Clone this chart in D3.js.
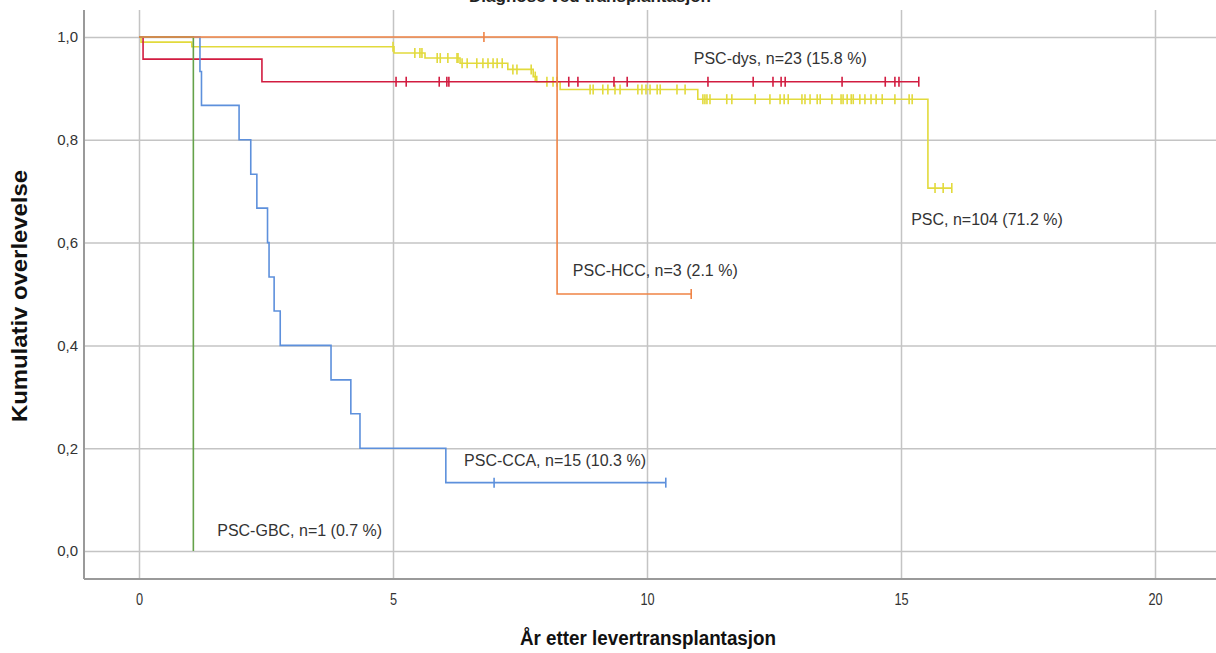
<!DOCTYPE html>
<html>
<head>
<meta charset="utf-8">
<script src="https://cdn.jsdelivr.net/npm/d3@7"></script>
<style>
  body { margin: 0; background: #fff; }
  svg { display: block; font-family: "Liberation Sans", Arial, sans-serif; }
</style>
</head>
<body>
<svg id="chart" width="1216" height="653"></svg>
<script>
// Kaplan-Meier curves (years, cumulative survival)
const groupNames = ["PSC", "PSC-dys", "PSC-CCA", "PSC-GBC", "PSC-HCC"];
const groupLabels = ["PSC, n=104 (71.2 %)", "PSC-dys, n=23 (15.8 %)", "PSC-CCA, n=15 (10.3 %)",
                     "PSC-GBC, n=1 (0.7 %)", "PSC-HCC, n=3 (2.1 %)"];

// PSC (yellow)
const pscEventTimes = [0.04, 1.04, 5.02, 5.63, 6.32, 7.26, 7.76, 7.83, 8.29, 11.00, 15.53];
const pscSurvival   = [0.990, 0.981, 0.969, 0.959, 0.949, 0.937, 0.923, 0.913, 0.898, 0.879, 0.706];
const pscCensored   = [5.00, 5.43, 5.53, 5.57, 5.87, 5.93, 6.08, 6.26, 6.28, 6.36, 6.46, 6.65, 6.77,
                       6.87, 6.97, 7.05, 7.15, 7.36, 7.44, 7.72, 7.80, 8.03, 8.15, 8.23, 8.88, 8.94,
                       9.13, 9.23, 9.37, 9.47, 9.82, 9.90, 9.98, 10.06, 10.20, 10.26, 10.59, 10.75,
                       11.10, 11.14, 11.18, 11.24, 11.57, 11.67, 12.13, 12.42, 12.62, 12.70, 12.78,
                       13.05, 13.11, 13.21, 13.35, 13.41, 13.64, 13.82, 13.86, 13.94, 14.02, 14.06,
                       14.19, 14.29, 14.41, 14.51, 14.63, 14.88, 15.16, 15.22, 15.67, 15.83, 16.00];

// PSC-dys (red)
const dysEventTimes = [0.08, 2.42];
const dysSurvival   = [0.957, 0.913];
const dysCensored   = [5.06, 5.26, 5.91, 6.06, 6.10, 8.46, 8.64, 9.35, 9.61, 11.20, 12.09, 12.48,
                       12.64, 12.72, 13.84, 14.69, 14.88, 14.96, 15.35];

// PSC-CCA (blue)
const ccaEventTimes = [1.20, 1.23, 1.97, 2.20, 2.32, 2.53, 2.56, 2.66, 2.78, 3.78, 4.17, 4.35, 6.04];
const ccaSurvival   = [0.933, 0.867, 0.800, 0.733, 0.667, 0.600, 0.533, 0.467, 0.400, 0.333, 0.267, 0.200, 0.133];
const ccaCensored   = [6.99, 10.37];

// PSC-GBC (green)
const gbcEventTimes = [1.07];
const gbcSurvival   = [0.0];
const gbcCensored   = [];

// PSC-HCC (orange)
const hccEventTimes = [8.23];
const hccSurvival   = [0.5];
const hccCensored   = [6.79, 10.87];

const xTicks = [0, 5, 10, 15, 20];
const yTicks = [0, 0.2, 0.4, 0.6, 0.8, 1.0];

const series = [
  { name: "PSC",     events: pscEventTimes, surv: pscSurvival, cens: pscCensored, color: "#e2da3c" },
  { name: "PSC-dys", events: dysEventTimes, surv: dysSurvival, cens: dysCensored, color: "#d21c40" },
  { name: "PSC-CCA", events: ccaEventTimes, surv: ccaSurvival, cens: ccaCensored, color: "#5d90dc" },
  { name: "PSC-GBC", events: gbcEventTimes, surv: gbcSurvival, cens: gbcCensored, color: "#65a24a" },
  { name: "PSC-HCC", events: hccEventTimes, surv: hccSurvival, cens: hccCensored, color: "#ef8446" }
];

// label anchors in data units (years, survival)
const labelAt = {
  "PSC":     [15.2, 0.635],
  "PSC-dys": [10.92, 0.947],
  "PSC-CCA": [6.40, 0.165],
  "PSC-GBC": [1.54, 0.029],
  "PSC-HCC": [8.54, 0.535]
};

const svg = d3.select("#chart");
const W = 1216, H = 653;
const plotLeft = 84, plotBottom = 579, plotTop = 10, plotRight = W;

const x = d3.scaleLinear().domain([0, 20]).range([139, 1155]);
const y = d3.scaleLinear().domain([0, 1]).range([551, 37]);

svg.append("rect").attr("width", W).attr("height", H).attr("fill", "#fff");

// chart title, cut off by the top edge as in the source image
svg.append("text")
  .attr("x", 590).attr("y", 2)
  .attr("text-anchor", "middle")
  .attr("font-size", 17).attr("font-weight", "bold").attr("fill", "#222")
  .text("Diagnose ved transplantasjon");

const nb = d3.formatLocale({ decimal: ",", thousands: ".", grouping: [3], currency: ["", ""] });
const fmtY = nb.format(".1f");

// y axis + horizontal grid
const yAxis = svg.append("g")
  .attr("transform", `translate(${plotLeft},0)`)
  .call(d3.axisLeft(y).tickValues(yTicks).tickFormat(fmtY).tickSize(-(plotRight - plotLeft)).tickPadding(6));
yAxis.select(".domain").remove();
yAxis.selectAll(".tick line").attr("stroke", "#c4c4c4").attr("stroke-width", 1.5);
yAxis.selectAll(".tick text")
  .attr("font-family", "Liberation Sans, Arial, sans-serif")
  .attr("font-size", 15).attr("fill", "#333");

// x axis + vertical grid
const xAxis = svg.append("g")
  .attr("transform", `translate(0,${plotBottom})`)
  .call(d3.axisBottom(x).tickValues(xTicks).tickSize(-(plotBottom - plotTop)).tickPadding(14));
xAxis.select(".domain").remove();
xAxis.selectAll(".tick line").attr("stroke", "#c4c4c4").attr("stroke-width", 1.5);
xAxis.selectAll(".tick text")
  .attr("font-family", "Liberation Sans, Arial, sans-serif")
  .attr("font-size", 17).attr("fill", "#333")
  .attr("transform", "scale(0.75,1)");

// axis lines
svg.append("line").attr("x1", plotLeft).attr("x2", plotLeft).attr("y1", plotTop).attr("y2", plotBottom)
  .attr("stroke", "#9a9a9a").attr("stroke-width", 2);
svg.append("line").attr("x1", plotLeft).attr("x2", plotRight).attr("y1", plotBottom).attr("y2", plotBottom)
  .attr("stroke", "#9a9a9a").attr("stroke-width", 2);

// axis titles
svg.append("text")
  .attr("transform", `translate(27,296) rotate(-90)`)
  .attr("text-anchor", "middle")
  .attr("font-size", 22).attr("font-weight", "bold").attr("fill", "#111")
  .attr("textLength", 252).attr("lengthAdjust", "spacingAndGlyphs")
  .text("Kumulativ overlevelse");

svg.append("text")
  .attr("x", 648).attr("y", 645)
  .attr("text-anchor", "middle")
  .attr("font-size", 20).attr("font-weight", "bold").attr("fill", "#111")
  .attr("textLength", 256).attr("lengthAdjust", "spacingAndGlyphs")
  .text("År etter levertransplantasjon");

function survAt(s, t) {
  let v = 1;
  s.events.forEach((e, i) => { if (e <= t) v = s.surv[i]; });
  return v;
}

const line = d3.line().x(d => x(d[0])).y(d => y(d[1])).curve(d3.curveStepAfter);

const curves = svg.append("g");
series.forEach(s => {
  const pts = [[0, 1]];
  s.events.forEach((e, i) => pts.push([e, s.surv[i]]));
  const end = d3.max([d3.max(s.events), d3.max(s.cens) || 0]);
  if (end > pts[pts.length - 1][0]) pts.push([end, s.surv[s.surv.length - 1]]);

  curves.append("path")
    .datum(pts)
    .attr("fill", "none")
    .attr("stroke", s.color)
    .attr("stroke-width", 1.6)
    .attr("d", line);

  curves.append("g")
    .selectAll("line")
    .data(s.cens)
    .join("line")
    .attr("x1", d => x(d)).attr("x2", d => x(d))
    .attr("y1", d => y(survAt(s, d)) - 5)
    .attr("y2", d => y(survAt(s, d)) + 5)
    .attr("stroke", s.color)
    .attr("stroke-width", 1.6);
});

// curve labels
svg.append("g")
  .selectAll("text")
  .data(groupNames)
  .join("text")
  .attr("x", d => x(labelAt[d][0]))
  .attr("y", d => y(labelAt[d][1]))
  .attr("font-size", 16)
  .attr("fill", "#333")
  .text((d, i) => groupLabels[i]);
</script>
</body>
</html>
